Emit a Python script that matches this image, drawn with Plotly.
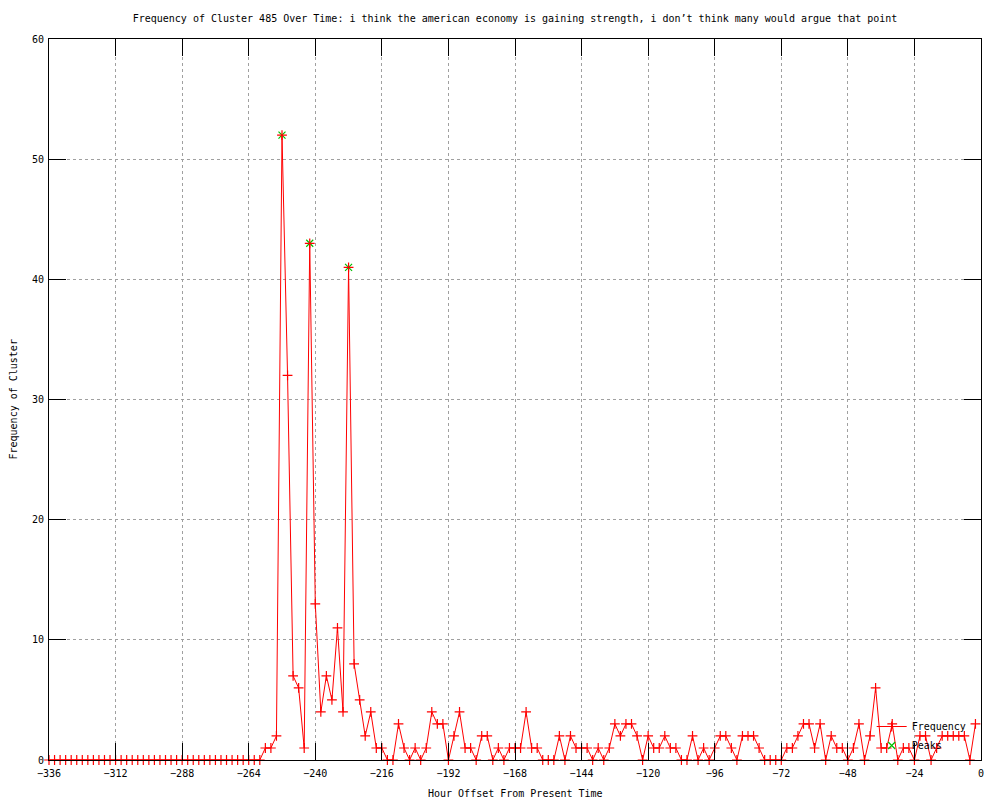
import plotly.graph_objects as go

# ---- data ----
hours = list(range(-336, 0, 2))
frequency = (
    [0] * 39 +  # -336 .. -260
    [1, 1, 2, 52, 32, 7, 6, 1, 43, 13,            # -258 .. -240
     4, 7, 5, 11, 4, 41, 8, 5, 2, 4,               # -238 .. -220
     1, 1, 0, 0, 3, 1, 0, 1, 0, 1,                 # -218 .. -200
     4, 3, 3, 0, 2, 4, 1, 1, 0, 2,                 # -198 .. -180
     2, 0, 1, 0, 1, 1, 1, 4, 1, 1,                 # -178 .. -160
     0, 0, 0, 2, 0, 2, 1, 1, 1, 0,                 # -158 .. -140
     1, 0, 1, 3, 2, 3, 3, 2, 0, 2,                 # -138 .. -120
     1, 1, 2, 1, 1, 0, 0, 2, 0, 1,                 # -118 .. -100
     0, 1, 2, 2, 1, 0, 2, 2, 2, 1,                 # -98 .. -80
     0, 0, 0, 0, 1, 1, 2, 3, 3, 1,                 # -78 .. -60
     3, 0, 2, 1, 1, 0, 1, 3, 0, 2,                 # -58 .. -40
     6, 1, 1, 3, 0, 1, 1, 0, 2, 2,                 # -38 .. -20
     0, 1, 2, 2, 2, 2, 2, 0, 3]                    # -18 .. -2
)
assert len(frequency) == len(hours), (len(frequency), len(hours))

peak_hours = [-252, -242, -228]
peak_values = [52, 43, 41]

x_ticks = list(range(-336, 1, 24))
y_ticks = list(range(0, 61, 10))

title_text = ("Frequency of Cluster 485 Over Time: i think the american economy is "
              "gaining strength, i don\u2019t think many would argue that point")
x_title = "Hour Offset From Present Time"
y_title = "Frequency of Cluster"

FONT = "DejaVu Sans Mono"
RED = "#ff0000"
GREEN = "#00c000"

fig = go.Figure()
fig.add_trace(go.Scatter(
    x=peak_hours, y=peak_values, name="Peaks", mode="markers",
    marker=dict(symbol="x-thin", size=7, color=GREEN,
                line=dict(color=GREEN, width=1.2)),
    legendrank=2,
))
fig.add_trace(go.Scatter(
    x=hours, y=frequency, name="Frequency", mode="lines+markers",
    line=dict(color=RED, width=1),
    marker=dict(symbol="cross-thin", size=7, color=RED,
                line=dict(color=RED, width=1.2)),
    cliponaxis=False, legendrank=1,
))

axis_common = dict(
    showline=True, mirror="ticks", linecolor="black", linewidth=1,
    ticks="inside", tickcolor="black", tickwidth=1,
    showgrid=True, gridcolor="#a0a0a0", griddash="dot", gridwidth=1,
    zeroline=False, tickfont=dict(family=FONT, size=10, color="black"),
)

fig.update_layout(
    width=1000, height=800,
    paper_bgcolor="white", plot_bgcolor="white",
    margin=dict(l=49, r=19, t=39, b=40),
    font=dict(family=FONT, size=10, color="black"),
    title=dict(text=title_text, x=0.5, xref="paper", y=1 - 18 / 800,
               yanchor="middle", font=dict(family=FONT, size=10)),
    xaxis=dict(range=[-336, 0], tickvals=x_ticks, ticklen=17,
               ticklabelstandoff=4, **axis_common),
    yaxis=dict(range=[0, 60], tickvals=y_ticks, ticklen=17,
               ticklabelstandoff=2, **axis_common),
    showlegend=True,
    legend=dict(x=0.99, xanchor="right", y=0.0, yanchor="bottom",
                bgcolor="rgba(0,0,0,0)", font=dict(family=FONT, size=10),
                tracegroupgap=0, itemwidth=30, traceorder="normal"),
    annotations=[
        dict(text=x_title, xref="paper", yref="paper", x=0.5, y=0,
             yshift=-33, showarrow=False, yanchor="middle",
             font=dict(family=FONT, size=10)),
        dict(text=y_title, xref="paper", yref="paper", x=0, y=0.5,
             xshift=-36, showarrow=False, textangle=-90, xanchor="center",
             font=dict(family=FONT, size=10)),
    ],
)

fig.write_html("out.html",
               config={"displayModeBar": False},
               post_script="document.body.style.margin='0';"
                           "document.body.style.overflow='hidden';")
